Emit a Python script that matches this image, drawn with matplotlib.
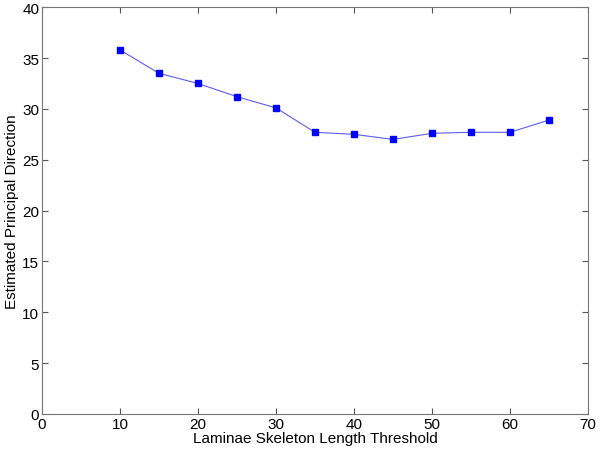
import matplotlib
matplotlib.use('Agg')
import matplotlib.pyplot as plt

plt.rcParams['font.family'] = ['Liberation Sans', 'DejaVu Sans']

thresholds = [10, 15, 20, 25, 30, 35, 40, 45, 50, 55, 60, 65]
direction = [35.8, 33.5, 32.5, 31.2, 30.1, 27.7, 27.5, 27.0, 27.6, 27.7, 27.7, 28.9]

fig = plt.figure(figsize=(6, 4.56), dpi=100)
ax = fig.add_axes([0.07, 0.09, 0.91, 0.892])

ax.plot(thresholds, direction, color='#5c5cf0', lw=0.8,
        marker='s', markersize=4.5, markerfacecolor='#0000ff', markeredgecolor='#0000ff')

ax.set_xlim(0, 70)
ax.set_ylim(0, 40)
ax.set_xticks(range(0, 71, 10))
ax.set_yticks(range(0, 41, 5))
ax.tick_params(direction='in', top=True, right=True, labelsize=11, length=4, color='#555555', pad=2)
for s in ax.spines.values():
    s.set_color('#777777')

ax.set_xlabel('Laminae Skeleton Length Threshold', fontsize=11, labelpad=0)
ax.set_ylabel('Estimated Principal Direction', fontsize=11, labelpad=2)

fig.savefig('out.png', dpi=100)
